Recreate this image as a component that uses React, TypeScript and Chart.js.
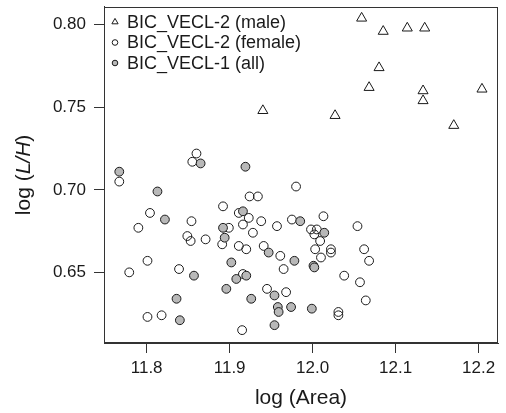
import React, { useEffect, useRef } from "react";
import { Chart, registerables } from "chart.js";

Chart.register(...registerables);

const maleX = [11.940, 12.059, 12.085, 12.114, 12.135, 12.080, 12.068, 12.133, 12.133, 12.204, 12.027, 12.170];
const maleY = [0.748, 0.804, 0.796, 0.798, 0.798, 0.774, 0.762, 0.760, 0.754, 0.761, 0.745, 0.739];

const femaleX = [11.860, 11.855, 11.767, 11.980, 11.924, 11.934, 11.892, 11.804, 11.790, 11.854, 11.911, 11.923, 11.938, 11.975, 12.013, 12.054, 11.916, 11.899, 11.957, 11.928, 11.849, 11.853, 11.871, 11.891, 11.911, 11.920, 11.941, 11.961, 11.965, 11.998, 12.005, 12.002, 12.009, 12.003, 12.022, 12.022, 12.062, 12.010, 12.068, 12.038, 12.057, 12.064, 12.031, 12.031, 11.801, 11.779, 11.839, 11.916, 11.945, 11.968, 11.801, 11.818, 11.915];
const femaleY = [0.722, 0.717, 0.705, 0.702, 0.696, 0.696, 0.690, 0.686, 0.677, 0.681, 0.686, 0.683, 0.681, 0.682, 0.684, 0.678, 0.679, 0.677, 0.678, 0.674, 0.672, 0.669, 0.670, 0.667, 0.666, 0.664, 0.666, 0.660, 0.652, 0.676, 0.676, 0.673, 0.669, 0.664, 0.664, 0.662, 0.664, 0.659, 0.657, 0.648, 0.644, 0.633, 0.626, 0.624, 0.657, 0.650, 0.652, 0.649, 0.640, 0.638, 0.623, 0.624, 0.615];

const allX = [11.865, 11.919, 11.767, 11.813, 11.822, 11.916, 11.985, 11.892, 11.894, 12.014, 11.947, 11.978, 12.001, 12.002, 11.902, 11.857, 11.908, 11.920, 11.896, 11.954, 11.926, 11.836, 11.958, 11.974, 11.959, 11.999, 11.840, 11.954];
const allY = [0.716, 0.714, 0.711, 0.699, 0.682, 0.687, 0.681, 0.677, 0.671, 0.674, 0.662, 0.657, 0.654, 0.653, 0.656, 0.648, 0.646, 0.648, 0.640, 0.636, 0.634, 0.634, 0.629, 0.629, 0.626, 0.628, 0.621, 0.618];

const xTicks = [11.8, 11.9, 12.0, 12.1, 12.2];
const yTicks = [0.65, 0.70, 0.75, 0.80];
const legendLabels = ["BIC_VECL-2 (male)", "BIC_VECL-2 (female)", "BIC_VECL-1 (all)"];
const xTitle = "log (Area)";

const FONT = "'Liberation Sans', Arial, Helvetica, sans-serif";
const INK = "#1a1a1a";
const GRAY = "#b8b8b8";

const toPoints = (xs: number[], ys: number[]) => xs.map((x, i) => ({ x, y: ys[i] }));

const decorPlugin = {
  id: "decor",
  afterDraw(chart: any) {
    const { ctx, chartArea } = chart;
    const { left, top, right, bottom } = chartArea;
    ctx.save();
    // box
    ctx.strokeStyle = "#333";
    ctx.lineWidth = 1;
    ctx.strokeRect(Math.round(left) + 0.5, Math.round(top) + 0.5, Math.round(right - left) - 1, Math.round(bottom - top) - 1);

    // legend
    const lx = 115;
    const tx = 127;
    const rows = [22, 42.5, 63];
    ctx.font = `18px ${FONT}`;
    ctx.textBaseline = "middle";
    ctx.textAlign = "left";
    rows.forEach((ry, i) => {
      ctx.fillStyle = INK;
      ctx.fillText(legendLabels[i], tx, ry + 1);
      ctx.strokeStyle = INK;
      ctx.lineWidth = 1;
      ctx.beginPath();
      if (i === 0) {
        const r = 3.6;
        ctx.moveTo(lx, ry - r);
        ctx.lineTo(lx + r * 0.866, ry + r * 0.5);
        ctx.lineTo(lx - r * 0.866, ry + r * 0.5);
        ctx.closePath();
        ctx.stroke();
      } else {
        ctx.arc(lx, ry, 2.8, 0, Math.PI * 2);
        if (i === 2) {
          ctx.fillStyle = GRAY;
          ctx.fill();
        }
        ctx.stroke();
      }
    });

    // x title
    ctx.fillStyle = INK;
    ctx.font = `21px ${FONT}`;
    ctx.textAlign = "center";
    ctx.textBaseline = "middle";
    ctx.fillText(xTitle, (left + right) / 2, 398);

    // y title with italic L/H
    const parts = [
      { t: "log (", it: false },
      { t: "L/H", it: true },
      { t: ")", it: false },
    ];
    let total = 0;
    parts.forEach((p) => {
      ctx.font = `${p.it ? "italic " : ""}21px ${FONT}`;
      total += ctx.measureText(p.t).width;
    });
    ctx.translate(24, (top + bottom) / 2);
    ctx.rotate(-Math.PI / 2);
    ctx.textAlign = "left";
    let cx = -total / 2;
    parts.forEach((p) => {
      ctx.font = `${p.it ? "italic " : ""}21px ${FONT}`;
      ctx.fillText(p.t, cx, 0);
      cx += ctx.measureText(p.t).width;
    });
    ctx.restore();
  },
};

export default function App() {
  const ref = useRef<HTMLCanvasElement | null>(null);

  useEffect(() => {
    document.body.style.margin = "0";
    const canvas = ref.current;
    if (!canvas) return;
    const chart = new Chart(canvas, {
      type: "scatter",
      data: {
        datasets: [
          {
            label: legendLabels[2],
            data: toPoints(allX, allY),
            pointStyle: "circle",
            pointRadius: 4.4,
            pointBackgroundColor: GRAY,
            pointBorderColor: INK,
            pointBorderWidth: 1,
            order: 0,
          },
          {
            label: legendLabels[1],
            data: toPoints(femaleX, femaleY),
            pointStyle: "circle",
            pointRadius: 4.4,
            pointBackgroundColor: "rgba(0,0,0,0)",
            pointBorderColor: INK,
            pointBorderWidth: 1,
            order: 1,
          },
          {
            label: legendLabels[0],
            data: toPoints(maleX, maleY),
            pointStyle: "triangle",
            pointRadius: 5.8,
            pointBackgroundColor: "rgba(0,0,0,0)",
            pointBorderColor: INK,
            pointBorderWidth: 1,
            order: 2,
          },
        ],
      },
      options: {
        animation: false,
        responsive: false,
        devicePixelRatio: 1,
        layout: { padding: { top: 6, right: 8, left: 0, bottom: 0 } },
        plugins: { legend: { display: false }, tooltip: { enabled: false } },
        scales: {
          x: {
            type: "linear",
            min: 11.7486,
            max: 12.2233,
            afterBuildTicks: (scale: any) => {
              scale.ticks = xTicks.map((v) => ({ value: v }));
            },
            afterFit: (scale: any) => {
              scale.height = 70;
              scale.paddingLeft = 0;
              scale.paddingRight = 0;
            },
            grid: { drawOnChartArea: false, drawTicks: true, tickLength: 10, color: "#333", lineWidth: 1 },
            border: { display: true, color: "#333", width: 1 },
            ticks: {
              color: INK,
              font: { family: FONT, size: 17 },
              padding: 5,
              maxRotation: 0,
              callback: (v: any) => Number(v).toFixed(1),
            },
          },
          y: {
            type: "linear",
            min: 0.6072,
            max: 0.8109,
            afterBuildTicks: (scale: any) => {
              scale.ticks = yTicks.map((v) => ({ value: v }));
            },
            afterFit: (scale: any) => {
              scale.width = 104;
              scale.paddingTop = 0;
              scale.paddingBottom = 0;
            },
            grid: { drawOnChartArea: false, drawTicks: true, tickLength: 10, color: "#333", lineWidth: 1 },
            border: { display: true, color: "#333", width: 1 },
            ticks: {
              color: INK,
              font: { family: FONT, size: 17 },
              padding: 8,
              callback: (v: any) => Number(v).toFixed(2),
            },
          },
        },
      },
      plugins: [decorPlugin],
    });
    return () => chart.destroy();
  }, []);

  return (
    <div style={{ position: "absolute", left: 0, top: 0, width: 506, height: 413, background: "#fff" }}>
      <canvas ref={ref} width={506} height={413} style={{ width: 506, height: 413, display: "block" }} />
    </div>
  );
}
